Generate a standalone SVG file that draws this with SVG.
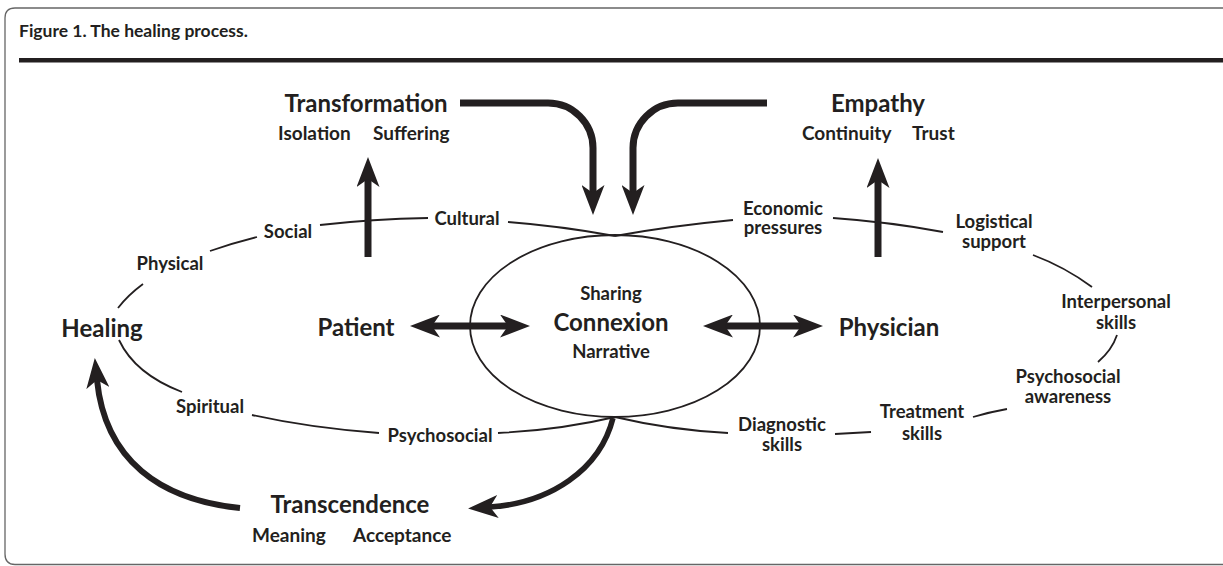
<svg xmlns="http://www.w3.org/2000/svg" width="1223" height="566" viewBox="0 0 1223 566">
<defs>
<style>
text{font-family:Lato,'Open Sans','Liberation Sans',sans-serif;font-weight:bold;fill:#231f20}
.big{font-size:24px}
.sub{font-size:19px}
.lab{font-size:18.5px}
.mid{text-anchor:middle}
.thin{fill:none;stroke:#231f20;stroke-width:1.8}
.thick{fill:none;stroke:#231f20;stroke-width:7}
</style>
<marker id="ah" markerUnits="userSpaceOnUse" markerWidth="30" markerHeight="23" viewBox="0 0 30 23" refX="8" refY="11.5" orient="auto-start-reverse">
<path d="M0,0 L30,11.5 L0,23 L8,11.5 Z" fill="#231f20"/>
</marker>
</defs>
<rect width="1223" height="566" fill="#fff"/>
<g id="frame">
<path d="M1223,8 H15 Q5,8 5,18 V554 Q5,564.5 15,564.5 H1223" fill="none" stroke="#666" stroke-width="1.3"/>
<rect x="19" y="58" width="1204" height="4.5" fill="#231f20"/>
<text x="19" y="37" style="font-size:17.5px">Figure 1. The healing process.</text>
</g>
<g id="connectors">
<path class="thin" d="M320,225 Q372,219 428,218"/>
<path class="thin" d="M210,251 Q233,243 257,237"/>
<path class="thin" d="M143,284 Q128,295 118,308"/>
<path class="thin" d="M119,340 Q135,374 182,392"/>
<path class="thin" d="M252,415 Q310,428 379,433"/>
<path class="thin" d="M498,433 Q560,430 615,417"/>
<path class="thin" d="M508,222 Q560,226 615,236"/>
<path class="thin" d="M733,220 Q670,226 615,236"/>
<path class="thin" d="M833,218 Q890,222 943,232"/>
<path class="thin" d="M1033,255 Q1065,267 1092,287"/>
<path class="thin" d="M1117,335 Q1112,350 1098,362"/>
<path class="thin" d="M1007,409 Q990,412 973,417"/>
<path class="thin" d="M871,432 L835,434"/>
<path class="thin" d="M728,433 Q670,430 615,417"/>
<path class="thick" d="M460,103 H548 A45,45 0 0 1 593,148 V193" marker-end="url(#ah)"/>
<path class="thick" d="M767,103 H678 A45,45 0 0 0 633,148 V193" marker-end="url(#ah)"/>
<path class="thick" d="M368,257 V179" marker-end="url(#ah)"/>
<path class="thick" d="M878,257 V180" marker-end="url(#ah)"/>
<path class="thick" d="M432,326 H508" marker-start="url(#ah)" marker-end="url(#ah)"/>
<path class="thick" d="M725,326 H801" marker-start="url(#ah)" marker-end="url(#ah)"/>
<path class="thick" style="stroke-width:5.5" d="M613,418 C600,470 550,503 490,507" marker-end="url(#ah)"/>
<path class="thick" style="stroke-width:6" d="M240,508 C160,500 105,460 97,380" marker-end="url(#ah)"/>
</g>
<g id="connexion">
<ellipse cx="615" cy="326" rx="145" ry="91" class="thin"/>
<text x="611" y="300" class="lab mid">Sharing</text>
<text x="611" y="331" class="big mid">Connexion</text>
<text x="611" y="358" class="lab mid">Narrative</text>
</g>
<g id="transformation">
<text x="366" y="112" class="big mid">Transformation</text>
<text x="278" y="140" class="sub">Isolation</text>
<text x="373" y="140" class="sub">Suffering</text>
</g>
<g id="empathy">
<text x="878" y="112" class="big mid">Empathy</text>
<text x="802" y="140" class="sub">Continuity</text>
<text x="912" y="140" class="sub">Trust</text>
</g>
<g id="patient"><text x="356" y="336" class="big mid">Patient</text></g>
<g id="physician"><text x="889" y="336" class="big mid">Physician</text></g>
<g id="healing"><text x="102" y="337" class="big mid">Healing</text></g>
<g id="transcendence">
<text x="350" y="513" class="big mid">Transcendence</text>
<text x="252" y="542" class="sub">Meaning</text>
<text x="353" y="542" class="sub">Acceptance</text>
</g>
<g id="social"><text x="288" y="238" class="lab mid">Social</text></g>
<g id="physical"><text x="170" y="270" class="lab mid">Physical</text></g>
<g id="cultural"><text x="467" y="225" class="lab mid">Cultural</text></g>
<g id="spiritual"><text x="210" y="413" class="lab mid">Spiritual</text></g>
<g id="psychosocial"><text x="440" y="442" class="lab mid">Psychosocial</text></g>
<g id="economic"><text x="783" y="215" class="lab mid">Economic</text><text x="783" y="234" class="lab mid">pressures</text></g>
<g id="logistical"><text x="994" y="228" class="lab mid">Logistical</text><text x="994" y="248" class="lab mid">support</text></g>
<g id="interpersonal"><text x="1116" y="308" class="lab mid">Interpersonal</text><text x="1116" y="329" class="lab mid">skills</text></g>
<g id="awareness"><text x="1068" y="383" class="lab mid">Psychosocial</text><text x="1068" y="403" class="lab mid">awareness</text></g>
<g id="treatment"><text x="922" y="418" class="lab mid">Treatment</text><text x="922" y="440" class="lab mid">skills</text></g>
<g id="diagnostic"><text x="782" y="431" class="lab mid">Diagnostic</text><text x="782" y="451" class="lab mid">skills</text></g>
</svg>
